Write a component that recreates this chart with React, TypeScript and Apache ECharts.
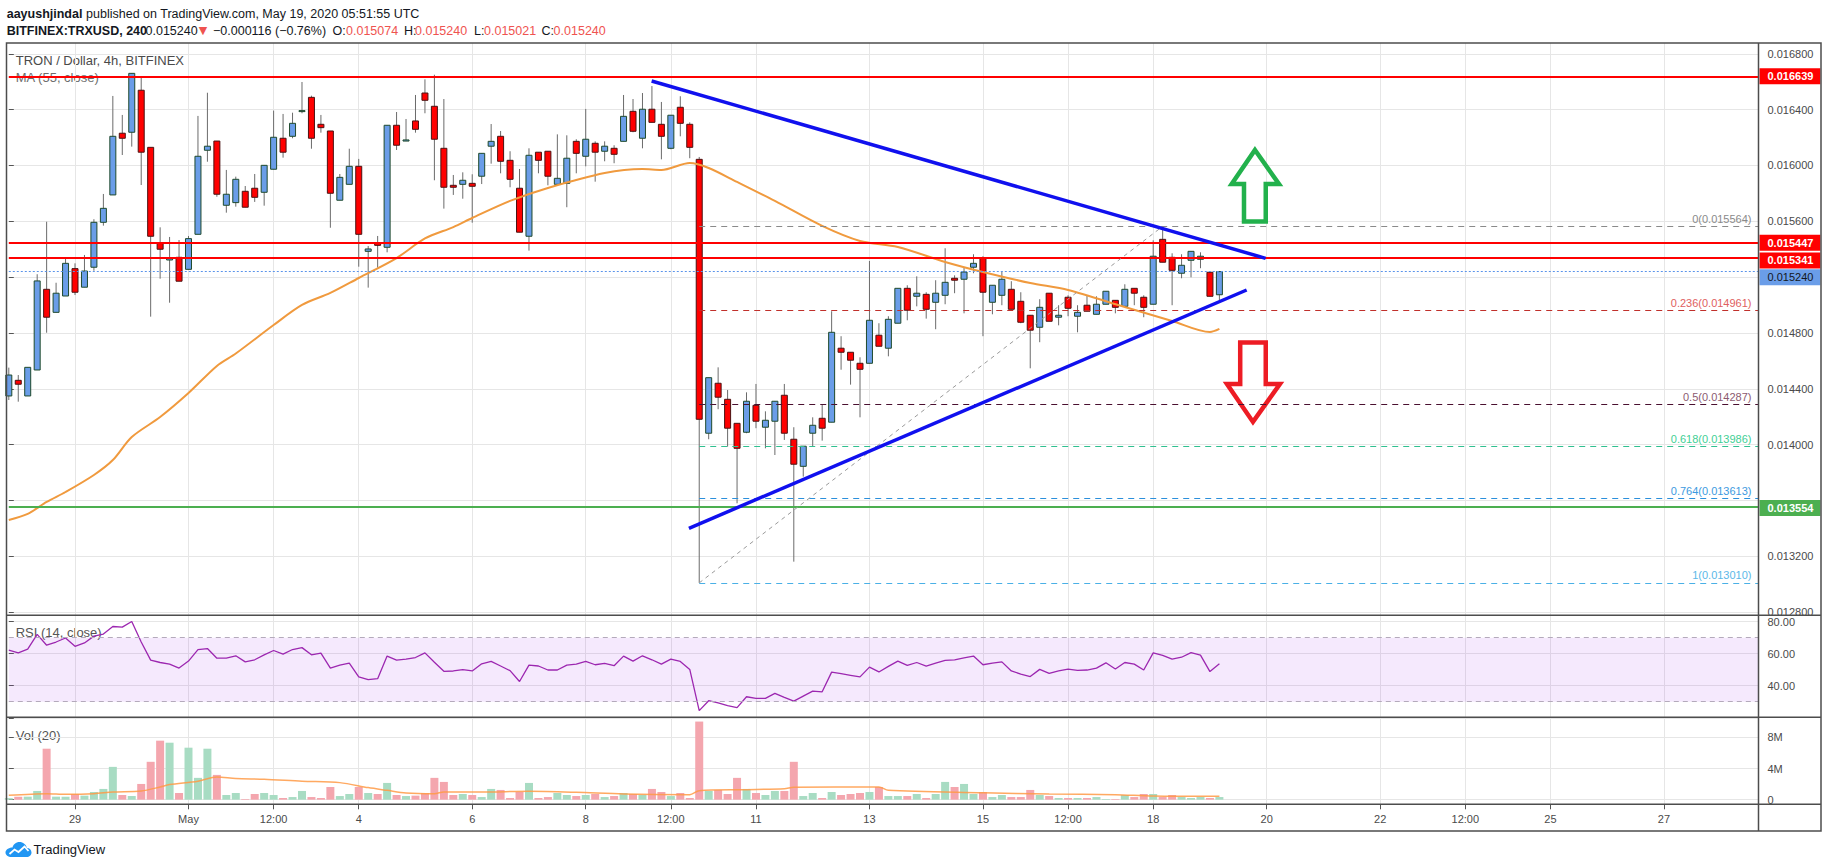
import React, { useEffect, useRef } from "react";
import * as echarts from "echarts";

// ---------- DATA ----------
const START_UTC = Date.UTC(2020, 3, 27, 20, 0); // first 4h bar
const BAR_MS = 4 * 3600 * 1000;
const SLOT_COUNT = 186; // bars + empty future slots

const opens = [
  0.014349, 0.014461, 0.014349, 0.014535, 0.015113, 0.014948, 0.015065, 0.015261, 0.015128, 0.015271,
  0.015593, 0.015789, 0.016231, 0.016238, 0.016539, 0.01613, 0.015445, 0.015323, 0.015342, 0.015256,
  0.015507, 0.016109, 0.016175, 0.015715, 0.015734, 0.015815, 0.015837, 0.015808, 0.015973, 0.016195,
  0.016209, 0.016388, 0.016488, 0.016295, 0.016247, 0.015751, 0.015865, 0.015994, 0.015385, 0.015447,
  0.015414, 0.016288, 0.016175, 0.016319, 0.016519, 0.016424, 0.016123, 0.015858, 0.015865, 0.015872,
  0.015923, 0.016138, 0.016209, 0.016037, 0.015837, 0.015493, 0.016095, 0.016102, 0.015865, 0.015872,
  0.016173, 0.016066, 0.016159, 0.016102, 0.016123, 0.016173, 0.016388, 0.016195, 0.016403, 0.016295,
  0.016123, 0.016417, 0.016295, 0.016044, 0.014082, 0.01444, 0.014325, 0.014153, 0.014089, 0.014282,
  0.014125, 0.014168, 0.014354, 0.014039, 0.013845, 0.014082, 0.014189, 0.014161, 0.014691, 0.014662,
  0.014583, 0.014583, 0.014784, 0.014691, 0.01487, 0.01512, 0.015063, 0.015077, 0.01502, 0.01507,
  0.015192, 0.015185, 0.015271, 0.015337, 0.01502, 0.01507, 0.015113, 0.015027, 0.014927, 0.014841,
  0.015085, 0.014913, 0.015056, 0.01492, 0.014999, 0.014934, 0.015006, 0.015034, 0.014991, 0.01512,
  0.015056, 0.015006, 0.015471, 0.015342, 0.015228, 0.015321, 0.015328, 0.015235, 0.015074,
];
const highs = [
  0.014552, 0.014499, 0.014554, 0.015221, 0.015597, 0.01516, 0.015335, 0.015299, 0.015359, 0.015615,
  0.015796, 0.016498, 0.016362, 0.01666, 0.016629, 0.01613, 0.015557, 0.015488, 0.015466, 0.015495,
  0.016355, 0.016521, 0.016175, 0.015968, 0.01592, 0.015853, 0.015939, 0.016001, 0.016393, 0.016369,
  0.016378, 0.016598, 0.0165, 0.016362, 0.016247, 0.015939, 0.01612, 0.016047, 0.015423, 0.015495,
  0.016288, 0.016383, 0.016333, 0.016505, 0.016617, 0.01665, 0.016476, 0.015932, 0.015951, 0.015937,
  0.016087, 0.016297, 0.016247, 0.016102, 0.015975, 0.016123, 0.016095, 0.016102, 0.016223, 0.016216,
  0.016188, 0.016405, 0.016173, 0.016173, 0.016145, 0.016505, 0.016476, 0.016519, 0.016569, 0.016455,
  0.01636, 0.016496, 0.016309, 0.016061, 0.01448, 0.014554, 0.014392, 0.014153, 0.014375, 0.014435,
  0.014239, 0.014311, 0.014435, 0.014125, 0.013989, 0.014196, 0.014289, 0.014956, 0.014777, 0.014662,
  0.014626, 0.015316, 0.01487, 0.01492, 0.01512, 0.015142, 0.015206, 0.015092, 0.015178, 0.015407,
  0.015213, 0.015266, 0.015364, 0.01535, 0.015142, 0.015242, 0.015171, 0.015092, 0.014927, 0.015042,
  0.015085, 0.014999, 0.01507, 0.014999, 0.01507, 0.015063, 0.015099, 0.015034, 0.015149, 0.01512,
  0.01507, 0.015464, 0.015564, 0.015371, 0.015364, 0.015385, 0.015378, 0.015235, 0.01524,
];
const lows = [
  0.01432, 0.014308, 0.014349, 0.014535, 0.014802, 0.014948, 0.015065, 0.015072, 0.015128, 0.015246,
  0.015569, 0.015789, 0.016075, 0.016135, 0.01586, 0.014917, 0.015189, 0.015017, 0.015171, 0.015256,
  0.015507, 0.016027, 0.015776, 0.015662, 0.015705, 0.015701, 0.015739, 0.015712, 0.015973, 0.016056,
  0.016195, 0.016374, 0.01612, 0.016235, 0.015554, 0.015751, 0.015865, 0.015275, 0.015125, 0.015268,
  0.015378, 0.016111, 0.016175, 0.016235, 0.016374, 0.015894, 0.015691, 0.015789, 0.015762, 0.01559,
  0.015867, 0.016013, 0.015944, 0.015844, 0.015522, 0.01539, 0.015944, 0.015858, 0.015865, 0.015701,
  0.015944, 0.015994, 0.015884, 0.01603, 0.016016, 0.016173, 0.016238, 0.016123, 0.016309, 0.016044,
  0.016116, 0.016209, 0.016052, 0.01301, 0.014039, 0.014254, 0.013986, 0.01358, 0.014082, 0.014118,
  0.013974, 0.013926, 0.014034, 0.013162, 0.013771, 0.013986, 0.014029, 0.014161, 0.014537, 0.01443,
  0.014196, 0.014583, 0.014705, 0.014633, 0.01487, 0.014891, 0.014991, 0.014903, 0.014827, 0.015006,
  0.015085, 0.014941, 0.015228, 0.014777, 0.014934, 0.014999, 0.01497, 0.01487, 0.014547, 0.014734,
  0.014884, 0.014855, 0.01492, 0.014805, 0.014956, 0.014934, 0.015006, 0.014941, 0.014991, 0.014999,
  0.014913, 0.015006, 0.015307, 0.014999, 0.015192, 0.015199, 0.015264, 0.015063, 0.015021,
];
const closes = [
  0.014499, 0.014433, 0.014554, 0.015173, 0.014913, 0.015085, 0.015299, 0.015092, 0.015244, 0.015593,
  0.015693, 0.016209, 0.016195, 0.01666, 0.016095, 0.015493, 0.0154, 0.015335, 0.015171, 0.015476,
  0.016066, 0.016138, 0.015794, 0.015794, 0.015901, 0.015701, 0.015772, 0.016001, 0.016202, 0.016095,
  0.016302, 0.016393, 0.016195, 0.016271, 0.015801, 0.015915, 0.015994, 0.015507, 0.015402, 0.015428,
  0.016288, 0.016145, 0.016183, 0.016259, 0.016467, 0.016188, 0.015844, 0.015844, 0.015894, 0.015851,
  0.016087, 0.016173, 0.01603, 0.015901, 0.015522, 0.016073, 0.016037, 0.015923, 0.015908, 0.016052,
  0.016087, 0.016188, 0.016095, 0.016138, 0.01608, 0.016352, 0.016245, 0.016403, 0.016309, 0.016209,
  0.01636, 0.016302, 0.01613, 0.014182, 0.01448, 0.01434, 0.014118, 0.013974, 0.014311, 0.014168,
  0.014175, 0.014311, 0.014082, 0.01386, 0.013989, 0.014139, 0.014118, 0.014805, 0.014662, 0.014605,
  0.01454, 0.014891, 0.014705, 0.014898, 0.01512, 0.014963, 0.015085, 0.01497, 0.015085, 0.015163,
  0.015178, 0.015237, 0.015299, 0.015092, 0.015142, 0.015185, 0.01497, 0.014877, 0.01482, 0.014984,
  0.014884, 0.014927, 0.014977, 0.014948, 0.014956, 0.015006, 0.015099, 0.014984, 0.015113, 0.015085,
  0.014984, 0.01535, 0.015307, 0.015249, 0.015285, 0.015385, 0.01535, 0.015063, 0.01524,
];
// MA(55): [bar index, value]
const ma55Points: [number, number][] = [
  [0, 0.013461], [2, 0.013504], [4, 0.01359], [6, 0.013661], [9, 0.013783], [11, 0.01389],
  [13, 0.014055], [16, 0.014198], [19, 0.01437], [22, 0.014564], [24, 0.014653], [28, 0.014857],
  [31, 0.015001], [34, 0.015087], [37, 0.015194], [41, 0.015337], [44, 0.015477], [47, 0.015559],
  [49, 0.015624], [53, 0.015746], [57, 0.015839], [63, 0.015946], [67, 0.015975], [69, 0.015968],
  [72, 0.016018], [74, 0.015982], [77, 0.015882], [81, 0.015746], [86, 0.015567], [90, 0.015459],
  [94, 0.015416], [99, 0.015309], [103, 0.015237], [108, 0.015158], [112, 0.015108], [118, 0.014986],
  [123, 0.014886], [127, 0.014807], [128, 0.014829],
];
const rsiValues = [
  62.2, 60.5, 62.8, 72.1, 65.3, 67.3, 69.8, 64.6, 66.7, 71.0, 72.3, 77.0, 76.6, 80.1, 67.3, 56.0,
  54.5, 53.5, 51.0, 55.4, 62.6, 63.2, 57.2, 57.2, 58.7, 54.9, 56.2, 59.3, 62.0, 59.7, 62.6, 63.8,
  59.3, 60.3, 51.0, 52.9, 54.1, 45.5, 43.8, 44.4, 58.5, 56.0, 56.6, 57.6, 60.5, 54.7, 49.0, 49.2,
  50.0, 49.2, 53.7, 55.2, 52.3, 49.4, 42.6, 52.9, 52.3, 49.8, 49.8, 52.9, 53.5, 55.2, 53.1, 53.9,
  52.5, 58.5, 55.4, 58.7, 56.2, 53.5, 56.6, 55.2, 50.2, 24.4, 30.6, 29.2, 27.5, 26.3, 33.1, 32.1,
  32.1, 35.2, 32.7, 30.4, 33.5, 36.6, 36.2, 48.5, 47.5, 46.5, 45.5, 51.6, 48.6, 52.1, 55.4, 52.7,
  54.5, 52.3, 54.1, 55.8, 56.2, 57.4, 58.5, 53.1, 54.1, 54.9, 49.2, 47.3, 45.7, 50.2, 47.7, 49.2,
  50.4, 49.6, 49.8, 51.0, 54.3, 50.4, 54.5, 53.5, 49.8, 60.5, 58.9, 56.6, 57.8, 60.7, 59.1, 48.8,
  53.7,
];
// volume in millions
const volumesM = [
  0.2, 0.39, 0.39, 1.12, 6.54, 0.39, 0.39, 0.73, 0.52, 0.99, 1.38, 4.21, 0.6, 0.47, 2.02, 4.86,
  7.57, 7.31, 0.86, 6.67, 2.8, 6.54, 3.18, 0.6, 0.86, 0.09, 0.73, 0.86, 0.6, 0.22, 0.34, 1.12,
  0.34, 0.22, 1.63, 0.47, 0.73, 1.63, 0.86, 0.73, 2.15, 0.6, 0.47, 0.52, 0.86, 2.8, 2.28, 0.6,
  0.73, 0.6, 0.34, 1.38, 1.25, 0.22, 0.99, 2.15, 0.22, 0.34, 0.86, 0.6, 0.47, 0.6, 0.73, 0.34,
  0.47, 0.86, 0.73, 0.6, 1.38, 0.99, 0.47, 0.86, 0.22, 10.02, 1.12, 1.25, 0.73, 2.8, 1.38, 0.86,
  0.6, 1.12, 1.12, 4.86, 0.47, 0.86, 0.22, 0.99, 0.6, 0.73, 0.86, 0.99, 1.63, 0.47, 0.47, 0.47,
  0.73, 0.22, 0.73, 2.28, 1.63, 2.02, 0.73, 0.99, 0.34, 0.6, 0.34, 0.34, 1.25, 0.6, 0.47, 0.22,
  0.22, 0.22, 0.22, 0.34, 0.09, 0.09, 0.6, 0.34, 0.73, 0.73, 0.34, 0.6, 0.34, 0.22, 0.34, 0.22,
  0.34,
];
const volMaPointsM: [number, number][] = [
  [0, 0.56], [4, 0.77], [6, 0.69], [9, 0.77], [11, 0.99], [14, 1.12], [16, 1.63], [17, 1.94],
  [20, 2.37], [22, 2.92], [24, 2.71], [27, 2.62], [31, 2.37], [35, 2.19], [38, 1.55], [40, 1.2],
  [42, 0.86], [45, 0.77], [46, 0.99], [50, 0.99], [55, 1.08], [60, 0.95], [65, 0.73], [72, 0.65],
  [73, 1.16], [78, 1.29], [82, 1.42], [83, 1.59], [92, 1.63], [93, 1.2], [103, 0.9], [110, 0.73],
  [117, 0.65], [121, 0.47], [128, 0.43],
];
const xTickLabels: [string, string][] = [
  ["2020-04-29 00:00", "29"], ["2020-05-01 00:00", "May"], ["2020-05-02 12:00", "12:00"],
  ["2020-05-04 00:00", "4"], ["2020-05-06 00:00", "6"], ["2020-05-08 00:00", "8"],
  ["2020-05-09 12:00", "12:00"], ["2020-05-11 00:00", "11"], ["2020-05-13 00:00", "13"],
  ["2020-05-15 00:00", "15"], ["2020-05-16 12:00", "12:00"], ["2020-05-18 00:00", "18"],
  ["2020-05-20 00:00", "20"], ["2020-05-22 00:00", "22"], ["2020-05-23 12:00", "12:00"],
  ["2020-05-25 00:00", "25"], ["2020-05-27 00:00", "27"],
];
// price-scale labels that sit under the coloured level boxes
const hiddenPriceTicks = ["0.015200", "0.013600"];
const volTickLabels = [0, 4, 8];
const resistanceLevels = [0.016639, 0.015447, 0.015341];
const supportLevel = 0.013554;
const lastPrice = 0.01524;
const countdownText = "02:08:11";
const fibRatios = ["0", "0.236", "0.5", "0.618", "0.764", "1"];
const fibValues = [0.015564, 0.014961, 0.014287, 0.013986, 0.013613, 0.01301];
const fibStartBar = 73;
const fibDiagonal: [number, number][] = [[73, 0.01301], [122, 0.015564]];
const trendLines: [number, number][][] = [
  [[67.97, 0.016605], [132.89, 0.015335]],
  [[71.91, 0.013401], [130.88, 0.015108]],
];
const upArrow: [number, number][] = [
  [131.76, 0.016111], [134.3, 0.015867], [132.9, 0.015867], [132.9, 0.015599],
  [130.6, 0.015599], [130.6, 0.015867], [129.3, 0.015867],
];
const downArrow: [number, number][] = [
  [130.2, 0.014732], [132.9, 0.014732], [132.9, 0.014435], [134.4, 0.014435],
  [131.55, 0.014163], [128.8, 0.014435], [130.2, 0.014435],
];

// ---------- STYLE ----------
const UP_FILL = "#6a9de8";
const UP_BORDER = "#1f4a2c";
const DOWN_FILL = "#ff0000";
const DOWN_BORDER = "#4a1212";
const WICK = "#6b6b6b";
const GRID_COLOR = "#e6e6e6";
const FRAME = "#4d4d4d";
const FONT = "'Liberation Sans', Arial, sans-serif";
const fibColors = ["#8a8a8a", "#e06060", "#8c5a70", "#3fcf95", "#3d9ae0", "#5cb8e8"];
const fibLineColors = ["#8a8a8a", "#c0302b", "#4a1030", "#30c090", "#2a8fdc", "#4ab0e6"];

const fmtCat = (t: number) => {
  const d = new Date(t);
  const p = (n: number) => String(n).padStart(2, "0");
  return `${d.getUTCFullYear()}-${p(d.getUTCMonth() + 1)}-${p(d.getUTCDate())} ${p(d.getUTCHours())}:${p(d.getUTCMinutes())}`;
};
const categories = Array.from({ length: SLOT_COUNT }, (_, i) => fmtCat(START_UTC + i * BAR_MS));
const tickMap = new Map(xTickLabels);
const isTick = (_i: number, v: string) => tickMap.has(v);

const GL = 8.8;
const GW = 1749.7;

function buildOption(): any {
  const candleData = opens.map((o, i) => [i, o, closes[i], lows[i], highs[i]]);

  const boxLabel = (text: string, bg: string, fg: string, bold: boolean, dy: number, dx = 0) => ({
    show: true,
    position: "end",
    distance: 1,
    formatter: text,
    backgroundColor: bg,
    color: fg,
    fontWeight: bold ? "bold" : "normal",
    fontSize: 11,
    lineHeight: 12,
    padding: [2, 7, 2, 8],
    offset: [dx, dy],
    fontFamily: FONT,
  });

  const mainMarkLines: any[] = [];
  resistanceLevels.forEach((v, k) => {
    mainMarkLines.push({
      yAxis: v,
      lineStyle: { color: "#ff0000", width: 2, type: "solid" },
      label: boxLabel(v.toFixed(6), "#ff0000", "#ffffff", true, k === 2 ? 3 : 0),
    });
  });
  mainMarkLines.push({
    yAxis: supportLevel,
    lineStyle: { color: "#4caf50", width: 2, type: "solid" },
    label: boxLabel(supportLevel.toFixed(6), "#4caf50", "#ffffff", true, 1),
  });
  mainMarkLines.push({
    yAxis: lastPrice,
    lineStyle: { color: "#5b94ea", width: 1, type: [2, 2] },
    label: boxLabel(lastPrice.toFixed(6), "#6a9de8", "#131722", false, 5.6),
  });
  mainMarkLines.push({
    yAxis: lastPrice,
    lineStyle: { opacity: 0 },
    label: boxLabel(countdownText, "#6a9de8", "#131722", false, 23.7, 7),
  });
  fibValues.forEach((v, k) => {
    const style = { color: fibLineColors[k], width: 1, type: [6, 5] };
    const label = {
      show: true,
      position: "insideEndTop",
      distance: [7, 2],
      formatter: `${fibRatios[k]}(${v.toFixed(6)})`,
      color: fibColors[k],
      fontSize: 11,
      fontFamily: FONT,
    };
    mainMarkLines.push([
      { coord: [fibStartBar, v], lineStyle: style, label },
      { coord: [SLOT_COUNT - 1, v], lineStyle: style, label },
    ]);
  });
  mainMarkLines.push([
    { coord: fibDiagonal[0], lineStyle: { color: "#9a9a9a", width: 1, type: [4, 4] }, label: { show: false } },
    { coord: fibDiagonal[1], lineStyle: { color: "#9a9a9a", width: 1, type: [4, 4] }, label: { show: false } },
  ]);
  trendLines.forEach((tl) => {
    const ls = { color: "#1010ee", width: 3.5, type: "solid" };
    mainMarkLines.push([
      { coord: tl[0], lineStyle: ls, label: { show: false } },
      { coord: tl[1], lineStyle: ls, label: { show: false } },
    ]);
  });

  const arrows = [
    { pts: upArrow, color: "#22b14c" },
    { pts: downArrow, color: "#ed1c24" },
  ];

  const headerText = (x: number, y: number, text: string, fill: string, bold = false, size = 12.5, family = FONT) => ({
    type: "text",
    x,
    y,
    style: { text, fill, fontSize: size, fontWeight: bold ? "bold" : "normal", fontFamily: family, verticalAlign: "middle" },
  });

  return {
    animation: false,
    backgroundColor: "#ffffff",
    textStyle: { fontFamily: FONT },
    grid: [
      { left: GL, width: GW, top: 43, height: 761.3 },
      { left: GL, width: GW, top: 53.8, height: 558.4 },
      { left: GL, width: GW, top: 621.7, height: 96 },
      { left: GL, width: GW, top: 718.6, height: 81.1 },
    ],
    xAxis: [
      {
        type: "category",
        gridIndex: 0,
        data: categories,
        boundaryGap: false,
        axisLine: { show: false },
        axisTick: { show: true, interval: isTick, length: 5, lineStyle: { color: "#555" } },
        axisLabel: {
          interval: isTick,
          formatter: (v: string) => tickMap.get(v) ?? "",
          color: "#4a4a4a",
          fontSize: 11,
          margin: 9,
          fontFamily: FONT,
        },
        splitLine: { show: true, interval: isTick, lineStyle: { color: GRID_COLOR, width: 1 } },
      },
      { type: "value", gridIndex: 1, min: 0, max: SLOT_COUNT - 1, show: false },
      { type: "value", gridIndex: 2, min: 0, max: SLOT_COUNT - 1, show: false },
      { type: "value", gridIndex: 3, min: 0, max: SLOT_COUNT - 1, show: false },
    ],
    yAxis: [
      { type: "value", gridIndex: 0, min: 0, max: 1, show: false },
      {
        type: "value",
        gridIndex: 1,
        position: "right",
        min: 0.0128,
        max: 0.0168,
        interval: 0.0004,
        axisLine: { show: false },
        axisTick: { show: true, length: 5, lineStyle: { color: "#555" } },
        axisLabel: {
          color: "#4a4a4a",
          fontSize: 11,
          margin: 9,
          formatter: (v: number) => {
            const s = v.toFixed(6);
            return hiddenPriceTicks.includes(s) ? "" : s;
          },
          fontFamily: FONT,
        },
        splitLine: { show: true, lineStyle: { color: GRID_COLOR } },
      },
      {
        type: "value",
        gridIndex: 2,
        position: "right",
        min: 20,
        max: 80,
        interval: 20,
        axisLine: { show: false },
        axisTick: { show: true, length: 5, lineStyle: { color: "#555" } },
        axisLabel: {
          color: "#4a4a4a",
          fontSize: 11,
          margin: 9,
          formatter: (v: number) => (v === 20 ? "" : v.toFixed(2)),
          fontFamily: FONT,
        },
        splitLine: { show: true, lineStyle: { color: GRID_COLOR } },
      },
      {
        type: "value",
        gridIndex: 3,
        position: "right",
        min: 0,
        max: 10.4,
        interval: 4,
        axisLine: { show: false },
        axisTick: { show: true, length: 5, lineStyle: { color: "#555" } },
        axisLabel: {
          color: "#4a4a4a",
          fontSize: 11,
          margin: 9,
          formatter: (v: number) => (volTickLabels.includes(v) ? (v === 0 ? "0" : `${v}M`) : ""),
          fontFamily: FONT,
        },
        splitLine: { show: true, lineStyle: { color: GRID_COLOR } },
      },
    ],
    series: [
      {
        name: "TRXUSD",
        type: "custom",
        xAxisIndex: 1,
        yAxisIndex: 1,
        data: candleData,
        encode: { x: 0, y: [1, 2, 3, 4] },
        renderItem: (_params: any, api: any) => {
          const i = api.value(0);
          const o = api.value(1);
          const c = api.value(2);
          const l = api.value(3);
          const h = api.value(4);
          const pO = api.coord([i, o]);
          const pC = api.coord([i, c]);
          const pL = api.coord([i, l]);
          const pH = api.coord([i, h]);
          const up = c >= o;
          const top = Math.min(pO[1], pC[1]);
          const bot = Math.max(pO[1], pC[1]);
          return {
            type: "group",
            children: [
              {
                type: "line",
                shape: { x1: pO[0], y1: pH[1], x2: pO[0], y2: pL[1] },
                style: { stroke: WICK, lineWidth: 1 },
              },
              {
                type: "rect",
                shape: { x: pO[0] - 3, y: top, width: 6, height: Math.max(bot - top, 1) },
                style: { fill: up ? UP_FILL : DOWN_FILL, stroke: up ? UP_BORDER : DOWN_BORDER, lineWidth: 1 },
              },
            ],
          };
        },
      },
      {
        name: "MA (55, close)",
        type: "line",
        xAxisIndex: 1,
        yAxisIndex: 1,
        data: ma55Points,
        showSymbol: false,
        smooth: 0.3,
        lineStyle: { color: "#f09a3e", width: 2 },
        markLine: { silent: true, precision: 6, symbol: ["none", "none"], data: mainMarkLines },
      },
      {
        name: "arrows",
        type: "custom",
        xAxisIndex: 1,
        yAxisIndex: 1,
        data: arrows.map((a) => a.pts[0]),
        renderItem: (params: any, api: any) => {
          const a = arrows[params.dataIndex];
          return {
            type: "polygon",
            shape: { points: a.pts.map((p) => api.coord(p)) },
            style: { fill: "none", stroke: a.color, lineWidth: 4.5, lineJoin: "miter" },
          };
        },
      },
      {
        name: "RSI (14, close)",
        type: "line",
        xAxisIndex: 2,
        yAxisIndex: 2,
        data: rsiValues.map((v, i) => [i, v]),
        showSymbol: false,
        lineStyle: { color: "#9c27b0", width: 1.3 },
        markArea: {
          silent: true,
          itemStyle: { color: "rgba(155, 40, 240, 0.1)" },
          data: [[{ yAxis: 30 }, { yAxis: 70 }]],
        },
        markLine: {
          silent: true,
          precision: 2,
          symbol: ["none", "none"],
          label: { show: false },
          lineStyle: { color: "#b4aabb", width: 1, type: [5, 4] },
          data: [{ yAxis: 70 }, { yAxis: 30 }],
        },
      },
      {
        name: "Vol",
        type: "bar",
        xAxisIndex: 3,
        yAxisIndex: 3,
        barWidth: 8,
        data: volumesM.map((v, i) => ({
          value: [i, v],
          itemStyle: { color: closes[i] >= opens[i] ? "#a8dcc3" : "#f4a6ae" },
        })),
      },
      {
        name: "Vol MA (20)",
        type: "line",
        xAxisIndex: 3,
        yAxisIndex: 3,
        data: volMaPointsM,
        showSymbol: false,
        smooth: 0.3,
        lineStyle: { color: "#ff9a45", width: 1.5, opacity: 0.85 },
      },
    ],
    graphic: [
      // header
      headerText(6.7, 13.5, "aayushjindal", "#131722", true),
      headerText(82.6, 13.5, " published on TradingView.com, May 19, 2020 05:51:55 UTC", "#131722"),
      headerText(6.7, 30.5, "BITFINEX:TRXUSD, 240", "#131722", true),
      headerText(145.5, 30.5, "0.015240", "#131722"),
      headerText(198.7, 30.5, "▼", "#ef5350", false, 11, "'DejaVu Sans', sans-serif"),
      headerText(213, 30.5, "−0.000116 (−0.76%)", "#131722"),
      headerText(332.6, 30.5, "O:", "#131722"),
      headerText(346, 30.5, "0.015074", "#ef5350"),
      headerText(404, 30.5, "H:", "#131722"),
      headerText(415, 30.5, "0.015240", "#ef5350"),
      headerText(474, 30.5, "L:", "#131722"),
      headerText(484, 30.5, "0.015021", "#ef5350"),
      headerText(541.5, 30.5, "C:", "#131722"),
      headerText(553.6, 30.5, "0.015240", "#ef5350"),
      // pane titles
      headerText(15.7, 60.7, "TRON / Dollar, 4h, BITFINEX", "#4a4a4a", false, 13),
      headerText(15.7, 77.7, "MA (55, close)", "#6e6e6e", false, 13),
      headerText(15.7, 632.7, "RSI (14, close)", "#555555", false, 13),
      headerText(15.7, 735.3, "Vol (20)", "#555555", false, 13),
      // frame
      { type: "rect", z: 50, shape: { x: 6.5, y: 43, width: 1814.5, height: 788 }, style: { fill: "none", stroke: FRAME, lineWidth: 1.5 } },
      { type: "line", z: 50, shape: { x1: 1758.5, y1: 43, x2: 1758.5, y2: 831 }, style: { stroke: FRAME, lineWidth: 1.5 } },
      { type: "line", z: 50, shape: { x1: 6.5, y1: 615.3, x2: 1821, y2: 615.3 }, style: { stroke: FRAME, lineWidth: 1.5 } },
      { type: "line", z: 50, shape: { x1: 6.5, y1: 717.3, x2: 1821, y2: 717.3 }, style: { stroke: FRAME, lineWidth: 1.5 } },
      { type: "line", z: 50, shape: { x1: 6.5, y1: 804.3, x2: 1821, y2: 804.3 }, style: { stroke: FRAME, lineWidth: 1.5 } },
      // TradingView logo
      {
        type: "group",
        x: 5.5,
        y: 842,
        children: [
          { type: "tvcloud", x: 0, y: 0, scaleX: 1, scaleY: 1, style: { fill: "#2196f3" } },
          { type: "polyline", shape: { points: [[4, 12], [9, 7.5], [13, 10], [19, 4.5], [23, 9]] }, style: { stroke: "#ffffff", lineWidth: 1.8, fill: "none" } },
        ],
      },
      headerText(33.5, 849.3, "TradingView", "#131722", false, 13),
    ],
  };
}

let shapeRegistered = false;
function registerShapes() {
  if (shapeRegistered) return;
  echarts.graphic.registerShape(
    "tvcloud",
    echarts.graphic.extendPath(
      "M6 15 L21 15 C24 15 26 13 26 10.5 C26 8 24 6 21.5 6 C20.5 2.5 17.5 0 14 0 C10.5 0 7.5 2.5 7 5.5 C3 5.5 0 8 0 10.5 C0 13 2.5 15 6 15 Z",
      {}
    ) as any
  );
  shapeRegistered = true;
}

export default function App() {
  const ref = useRef<HTMLDivElement>(null);
  useEffect(() => {
    if (!ref.current) return;
    registerShapes();
    const chart = echarts.init(ref.current, null, { renderer: "svg" });
    chart.setOption(buildOption());
    return () => chart.dispose();
  }, []);
  return (
    <div
      ref={ref}
      style={{ position: "fixed", left: 0, top: 0, width: 1828, height: 868, background: "#ffffff" }}
    />
  );
}
